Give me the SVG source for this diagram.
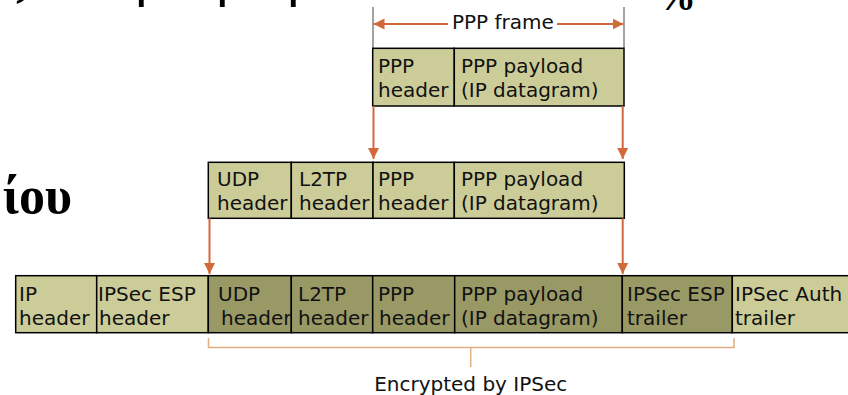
<svg xmlns="http://www.w3.org/2000/svg" width="848" height="395" viewBox="0 0 848 395">
  <style>
    .lbl { font-family: "DejaVu Sans", Verdana, sans-serif; font-size: 20px; fill: #111; }
    .greek { font-family: "Liberation Serif", "Times New Roman", serif; font-weight: bold; fill: #000; }
    .thin { font-weight: normal; }
    .light { fill: #cccc99; stroke: #000; stroke-width: 1.5; }
    .dark { fill: #999966; stroke: #000; stroke-width: 1.5; }
    .arrow { stroke: #d2693a; stroke-width: 2; fill: none; marker-end: url(#head); }
    .tick { stroke: #666; stroke-width: 1.2; }
    .brace { stroke: #dfae82; stroke-width: 1.5; fill: none; }
  </style>
  <defs>
    <marker id="head" markerUnits="userSpaceOnUse" markerWidth="12" markerHeight="12" refX="11" refY="6" orient="auto">
      <path d="M0,0.5 L11,6 L0,11.5 z" fill="#d2693a"/>
    </marker>
  </defs>
  <rect width="848" height="395" fill="#fff"/>

  <!-- slide text around the figure -->
  <g id="slide-text">
    <text class="greek" x="3" y="-7" font-size="54">ς</text>
    <text class="greek thin" x="135" y="-6" font-size="60">ρ</text>
    <text class="greek thin" x="216" y="-6" font-size="60">ρ</text>
    <text class="greek thin" x="287" y="-6" font-size="60">ρ</text>
    <text class="greek" x="656" y="10" font-size="40">%</text>
    <text class="greek" x="3" y="213" font-size="52">ίου</text>
  </g>

  <!-- PPP frame dimension -->
  <g id="ppp-frame-span">
    <line class="tick" x1="373" y1="7" x2="373" y2="48"/>
    <line class="tick" x1="624" y1="7" x2="624" y2="48"/>
    <text class="lbl" x="452" y="29">PPP frame</text>
  </g>

  <!-- PPP frame -->
  <g id="ppp-frame">
    <rect class="light" x="372.7" y="48.3" width="81.6" height="57.7"/>
    <rect class="light" x="454.3" y="48.3" width="169.7" height="57.7"/>
    <text class="lbl" x="378" y="73">PPP</text>
    <text class="lbl" x="378" y="97">header</text>
    <text class="lbl" x="461" y="73">PPP payload</text>
    <text class="lbl" x="461" y="97">(IP datagram)</text>
  </g>

  <!-- L2TP frame -->
  <g id="l2tp-frame">
    <rect class="light" x="208.3" y="162.3" width="83" height="56"/>
    <rect class="light" x="291.3" y="162.3" width="81.7" height="56"/>
    <rect class="light" x="373" y="162.3" width="81.3" height="56"/>
    <rect class="light" x="454.3" y="162.3" width="170" height="56"/>
    <text class="lbl" x="217" y="186">UDP</text>
    <text class="lbl" x="217" y="210">header</text>
    <text class="lbl" x="299" y="186">L2TP</text>
    <text class="lbl" x="299" y="210">header</text>
    <text class="lbl" x="378" y="186">PPP</text>
    <text class="lbl" x="378" y="210">header</text>
    <text class="lbl" x="461" y="186">PPP payload</text>
    <text class="lbl" x="461" y="210">(IP datagram)</text>
  </g>

  <!-- IPSec ESP packet -->
  <g id="ipsec-packet">
    <rect class="light" x="15.7" y="275.7" width="81" height="57"/>
    <rect class="light" x="96.7" y="275.7" width="111.6" height="57"/>
    <rect class="dark" x="208.3" y="275.7" width="83" height="57"/>
    <rect class="dark" x="291.3" y="275.7" width="81.4" height="57"/>
    <rect class="dark" x="372.7" y="275.7" width="82" height="57"/>
    <rect class="dark" x="454.7" y="275.7" width="167.6" height="57"/>
    <rect class="dark" x="622.3" y="275.7" width="110" height="57"/>
    <rect class="light" x="732.3" y="275.7" width="130" height="57"/>
    <text class="lbl" x="19" y="301">IP</text>
    <text class="lbl" x="19" y="325">header</text>
    <text class="lbl" x="98" y="301">IPSec ESP</text>
    <text class="lbl" x="99" y="325">header</text>
    <text class="lbl" x="218" y="301">UDP</text>
    <text class="lbl" x="221" y="325">header</text>
    <text class="lbl" x="298" y="301">L2TP</text>
    <text class="lbl" x="298" y="325">header</text>
    <text class="lbl" x="378" y="301">PPP</text>
    <text class="lbl" x="379" y="325">header</text>
    <text class="lbl" x="461" y="301">PPP payload</text>
    <text class="lbl" x="461" y="325">(IP datagram)</text>
    <text class="lbl" x="627" y="301">IPSec ESP</text>
    <text class="lbl" x="627" y="325">trailer</text>
    <text class="lbl" x="735" y="301">IPSec Auth</text>
    <text class="lbl" x="735" y="325">trailer</text>
  </g>

  <!-- encrypted range -->
  <g id="encrypted-span">
    <path class="brace" d="M208.5,338 V347.5 H734 V338 M470.7,347.5 V367"/>
    <text class="lbl" x="470.7" y="391" text-anchor="middle">Encrypted by IPSec</text>
  </g>

  <g id="connectors">
    <line class="arrow" x1="448" y1="24" x2="373.5" y2="24"/>
    <line class="arrow" x1="557" y1="24" x2="623.5" y2="24"/>
    <line class="arrow" x1="373.5" y1="106" x2="373.5" y2="159"/>
    <line class="arrow" x1="622.7" y1="106" x2="622.7" y2="159"/>
    <line class="arrow" x1="209.5" y1="218.3" x2="209.5" y2="274"/>
    <line class="arrow" x1="622.7" y1="218.3" x2="622.7" y2="274"/>
  </g>
</svg>
